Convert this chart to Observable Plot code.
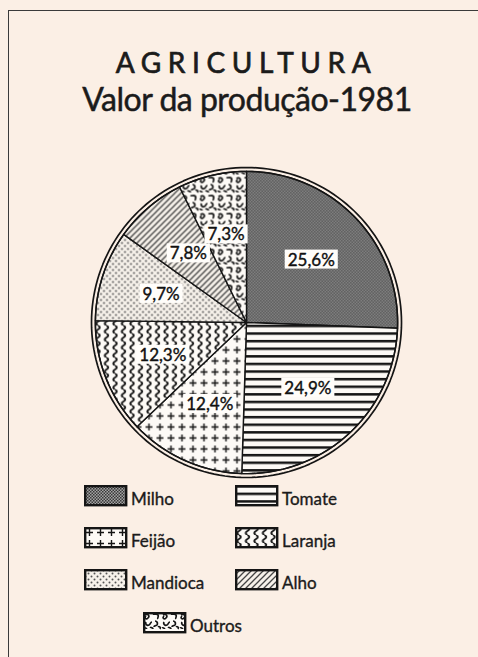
<!DOCTYPE html>
<html><head><meta charset="utf-8">
<script src="https://cdn.jsdelivr.net/npm/d3@7"></script>
<script src="https://cdn.jsdelivr.net/npm/@observablehq/plot@0.6"></script>
<style>
body{margin:0;background:#fbefe5;width:478px;height:657px;overflow:hidden;position:relative;font-family:Lato,"Open Sans",sans-serif;color:#1b1b1b}
#frame{position:absolute;left:8px;top:10px;width:480px;height:660px;border-top:1.6px solid #3a3a3a;border-left:1.6px solid #3a3a3a}
.t1{position:absolute;left:4px;top:48px;width:478px;text-align:center;font-size:28px;line-height:28px;letter-spacing:6.6px;padding-left:7px;box-sizing:border-box;-webkit-text-stroke:0.7px #1b1b1b}
.t2{position:absolute;left:8px;top:83px;width:478px;text-align:center;font-size:32px;line-height:32px;letter-spacing:-0.5px;-webkit-text-stroke:0.5px #1b1b1b}
#chart{position:absolute;left:0;top:157px}
.lg{position:absolute;font-size:17px;line-height:17px;-webkit-text-stroke:0.35px #1b1b1b}
.sw{position:absolute}
#defs{position:absolute;width:0;height:0}
</style></head><body>
<svg id="defs" width="0" height="0"><defs>
<pattern id="pat0" width="3" height="3" patternUnits="userSpaceOnUse"><rect width="3" height="3" fill="#a4a4a4"/><rect width="1.5" height="1.5" fill="#383838"/><rect x="1.5" y="1.5" width="1.5" height="1.5" fill="#383838"/></pattern>
<pattern id="pat1" width="10" height="7.6" patternUnits="userSpaceOnUse"><rect width="10" height="7.6" fill="#fdfaf6"/><rect y="0" width="10" height="2.5" fill="#151515"/></pattern>
<pattern id="pat2" width="11" height="11" patternUnits="userSpaceOnUse"><rect width="11" height="11" fill="#fdfaf6"/><path d="M5.5 2V9M2 5.5H9" stroke="#151515" stroke-width="1.4" fill="none"/></pattern>
<pattern id="pat3" width="8.5" height="8" patternUnits="userSpaceOnUse"><rect width="8.5" height="8" fill="#fdfaf6"/><path d="M4 0Q7.5 2 4 4Q0.5 6 4 8" stroke="#151515" stroke-width="1.9" fill="none"/></pattern>
<pattern id="pat4" width="6" height="6" patternUnits="userSpaceOnUse"><rect width="6" height="6" fill="#f6f1ea"/><circle cx="1.5" cy="1.5" r="1" fill="#555"/><circle cx="4.5" cy="4.5" r="1" fill="#555"/></pattern>
<pattern id="pat5" width="6" height="6" patternUnits="userSpaceOnUse"><rect width="6" height="6" fill="#f6f1ea"/><path d="M0 6L6 0M-1 1L1 -1M5 7L7 5" stroke="#444" stroke-width="1.3"/></pattern>
<pattern id="pat6" width="18" height="18" patternUnits="userSpaceOnUse"><rect width="18" height="18" fill="#fdfaf6"/><path d="M2 3c3-2 5 1 3 3c-2 2-4 0-2-2M10 2c2 1 4-1 5 1c1 2-1 3 0 4M3 10c-1 2 1 4 3 3c2-1 1-3 3-3M12 9c2 0 3 2 2 4c-1 1-3 0-3 2M7 15c1 1 3 0 3 2M15 15c1-1 3 0 2 2M1 16c1-1 2 1 3 0" stroke="#151515" stroke-width="1.7" fill="none"/></pattern>
</defs></svg>
<div id="frame"></div>
<div class="t1">AGRICULTURA</div>
<div class="t2">Valor da produção-1981</div>
<div id="chart"></div>
<div id="legend"></div>
<script>
const categories = ["Milho", "Tomate", "Feijão", "Laranja", "Mandioca", "Alho", "Outros"];
const values = [25.6, 24.9, 12.4, 12.3, 9.7, 7.8, 7.3];
const labels = ["25,6%", "24,9%", "12,4%", "12,3%", "9,7%", "7,8%", "7,3%"];

const total = d3.sum(values);
let acc = 0;
const inner = 0.975;
const slices = categories.map((c, i) => {
  const a0 = acc / total * 2 * Math.PI;
  acc += values[i];
  const a1 = acc / total * 2 * Math.PI;
  const n = Math.max(4, Math.ceil((a1 - a0) / 0.02));
  const pts = [{x: 0, y: 0}];
  for (let k = 0; k <= n; k++) {
    const a = a0 + (a1 - a0) * k / n;
    pts.push({x: inner * Math.sin(a), y: inner * Math.cos(a)});
  }
  pts.push({x: 0, y: 0});
  const mid = (a0 + a1) / 2;
  return {i, name: c, label: labels[i], pts, lx: 0.58 * Math.sin(mid), ly: 0.58 * Math.cos(mid)};
});
const ring = r => d3.range(0, 361, 2).map(d => ({x: r * Math.sin(d * Math.PI / 180), y: r * Math.cos(d * Math.PI / 180)}));

const plot = Plot.plot({
  width: 478, height: 330,
  marginLeft: 91, marginRight: 77, marginTop: 10, marginBottom: 10,
  style: {background: "transparent", overflow: "visible"},
  x: {domain: [-1, 1], axis: null},
  y: {domain: [-1, 1], axis: null},
  marks: [
    ...slices.map(s => Plot.line(s.pts, {x: "x", y: "y", fill: `url(#pat${s.i})`, stroke: "#151515", strokeWidth: 1.4, curve: "linear"})),
    Plot.line(ring(inner), {x: "x", y: "y", stroke: "#151515", strokeWidth: 1.5}),
    Plot.line(ring(1), {x: "x", y: "y", stroke: "#151515", strokeWidth: 1.7}),
    Plot.text(slices, {x: "lx", y: "ly", text: "label", fontSize: 17, fill: "#111", stroke: "#111", strokeWidth: 0.4, fontFamily: "Lato, sans-serif"})
  ]
});
document.getElementById("chart").appendChild(plot);

// white boxes behind labels
plot.querySelectorAll('g[aria-label="text"] text').forEach(t => {
  const bb = t.getBBox();
  const r = document.createElementNS("http://www.w3.org/2000/svg", "rect");
  r.setAttribute("x", bb.x - 3); r.setAttribute("y", bb.y + 1);
  r.setAttribute("width", bb.width + 6); r.setAttribute("height", bb.height - 2);
  r.setAttribute("fill", "#fffdfa");
  r.setAttribute("stroke", "none");
  if (t.getAttribute("transform")) r.setAttribute("transform", t.getAttribute("transform"));
  t.parentNode.insertBefore(r, t);
});

// legend
const legend = document.getElementById("legend");
categories.forEach((c, i) => {
  const row = Math.floor(i / 2), col = i % 2;
  let sx = col ? 235 : 84, sy = 485 + row * 42;
  if (i === 6) { sx = 143; sy = 612; }
  const sw = document.createElementNS("http://www.w3.org/2000/svg", "svg");
  sw.setAttribute("width", 44); sw.setAttribute("height", 22);
  sw.setAttribute("class", "sw");
  sw.style.left = sx + "px"; sw.style.top = sy + "px";
  sw.innerHTML = `<rect x="1.2" y="1.2" width="41" height="19" fill="url(#pat${i})" stroke="#151515" stroke-width="2.4"/>`;
  legend.appendChild(sw);
  const tx = document.createElement("div");
  tx.className = "lg"; tx.textContent = c;
  tx.style.left = (sx + 47) + "px"; tx.style.top = (sy + 5) + "px";
  legend.appendChild(tx);
});
</script>
</body></html>
